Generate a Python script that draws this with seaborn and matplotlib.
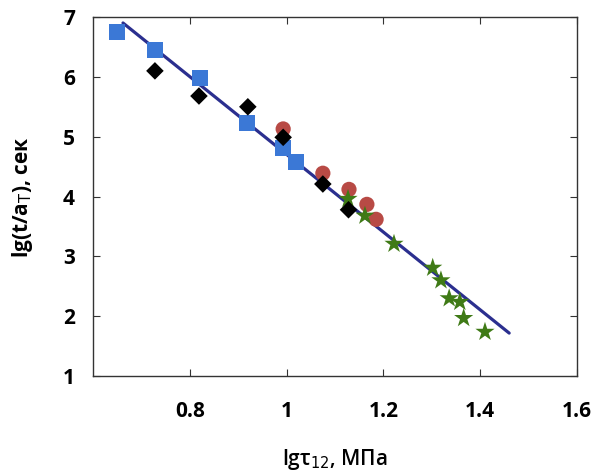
import matplotlib
matplotlib.use("Agg")
import matplotlib.pyplot as plt
import seaborn as sns
import pandas as pd

# Data
sq_x = [0.650, 0.728, 0.821, 0.918, 0.993, 1.020]
sq_y = [6.75, 6.45, 5.98, 5.23, 4.81, 4.58]

dia_x = [0.728, 0.819, 0.920, 0.993, 1.075, 1.128]
dia_y = [6.10, 5.68, 5.50, 4.99, 4.21, 3.78]

cir_x = [0.993, 1.075, 1.129, 1.166, 1.185]
cir_y = [5.13, 4.39, 4.12, 3.87, 3.62]

star_x = [1.127, 1.162, 1.222, 1.302, 1.319, 1.336, 1.358, 1.366, 1.410]
star_y = [3.96, 3.68, 3.21, 2.81, 2.60, 2.30, 2.24, 1.97, 1.74]

line_x = [0.662, 1.460]
line_y = [6.90, 1.72]

x_ticks = [0.8, 1.0, 1.2, 1.4, 1.6]
x_tick_labels = ["0.8", "1", "1.2", "1.4", "1.6"]
y_ticks = [1, 2, 3, 4, 5, 6, 7]

sns.set_style("ticks")
plt.rcParams['font.family'] = ['Open Sans', 'DejaVu Sans']
plt.rcParams['text.color'] = 'black'
plt.rcParams['axes.labelcolor'] = 'black'

fig = plt.figure(figsize=(5.96, 4.72), dpi=100)
ax = fig.add_axes([0.156, 0.203, 0.812, 0.761])

sns.lineplot(x=line_x, y=line_y, ax=ax, color="#2b2f8f", linewidth=2.3, zorder=2)
sns.scatterplot(x=sq_x, y=sq_y, ax=ax, marker="s", s=125, color="#3b78d6",
                edgecolor="none", zorder=3)
sns.scatterplot(x=dia_x, y=dia_y, ax=ax, marker="D", s=80, color="#000000",
                edgecolor="none", zorder=4)
sns.scatterplot(x=cir_x, y=cir_y, ax=ax, marker="o", s=120, color="#b84a45",
                edgecolor="none", zorder=3)
sns.scatterplot(x=star_x, y=star_y, ax=ax, marker="*", s=210, color="#3f7a16",
                edgecolor="none", zorder=3)

ax.set_xlim(0.6, 1.6)
ax.set_ylim(1, 7)
ax.set_xticks(x_ticks)
ax.set_xticklabels(x_tick_labels)
ax.set_yticks(y_ticks)
for s in ax.spines.values():
    s.set_linewidth(1.0)
    s.set_color("#333333")
ax.tick_params(direction="in", length=5, width=0.8, top=True, right=True,
               labelsize=15, colors="#333333", labelcolor="black")
ax.tick_params(axis="x", pad=18)
ax.tick_params(axis="y", pad=13)
for lab in ax.get_xticklabels() + ax.get_yticklabels():
    lab.set_fontweight("bold")

ax.set_xlabel("lgτ$_{12}$, МПа", fontsize=15, fontweight="semibold", labelpad=18)
ax.set_ylabel("lg(t/a$_{\\mathrm{T}}$), сек", fontsize=15, fontweight="bold", labelpad=20)

fig.savefig("out.png", dpi=100)
